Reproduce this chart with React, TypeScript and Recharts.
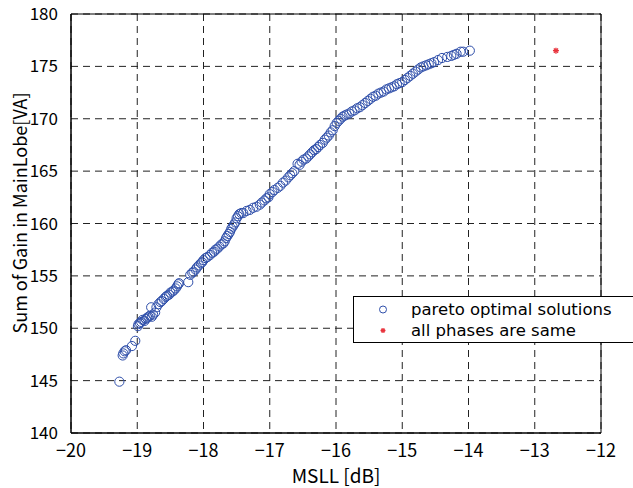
import {
  ScatterChart,
  Scatter,
  XAxis,
  YAxis,
  CartesianGrid,
  ReferenceArea,
} from "recharts";

// MSLL [dB] of each pareto optimal solution
const paretoMsll = [
  -19.27, -19.22, -19.21, -19.19, -19.17, -19.08, -19.03, -18.99, -18.98, -18.96,
  -18.94, -18.92, -18.89, -18.87, -18.85, -18.83, -18.81, -18.79, -18.78, -18.76,
  -18.73, -18.71, -18.68, -18.65, -18.63, -18.6, -18.57, -18.55, -18.52, -18.5,
  -18.47, -18.45, -18.42, -18.4, -18.38, -18.37, -18.23, -18.2, -18.17, -18.15,
  -18.12, -18.1, -18.07, -18.04, -18.02, -18.0, -17.97, -17.94, -17.9, -17.87,
  -17.84, -17.82, -17.79, -17.76, -17.73, -17.7, -17.68, -17.66, -17.64, -17.62,
  -17.6, -17.58, -17.56, -17.54, -17.52, -17.5, -17.48, -17.46, -17.43, -17.4,
  -17.35, -17.3, -17.25, -17.2, -17.15, -17.12, -17.08, -17.05, -17.02, -17.0,
  -16.96, -16.93, -16.88, -16.84, -16.8, -16.76, -16.72, -16.69, -16.66, -16.63,
  -16.58, -16.55, -16.52, -16.49, -16.45, -16.42, -16.39, -16.36, -16.33, -16.3,
  -16.27, -16.24, -16.2, -16.17, -16.14, -16.11, -16.08, -16.05, -16.02, -15.99,
  -15.96, -15.93, -15.9, -15.87, -15.84, -15.8, -15.76, -15.72, -15.68, -15.64,
  -15.6, -15.56, -15.52, -15.48, -15.44, -15.4, -15.36, -15.32, -15.28, -15.24,
  -15.2, -15.16, -15.12, -15.08, -15.04, -15.0, -14.96, -14.92, -14.88, -14.84,
  -14.8, -14.76, -14.72, -14.68, -14.64, -14.6, -14.56, -14.52, -14.46, -14.4,
  -14.32, -14.26, -14.22, -14.18, -14.12, -14.08, -13.98,
];

// sum of gain in main lobe [VA], same order
const paretoGain = [
  144.9, 147.4, 147.6, 147.8, 147.9, 148.3, 148.8, 150.2, 150.4, 150.5,
  150.6, 150.8, 150.7, 150.9, 151.0, 151.1, 151.2, 152.0, 151.1, 151.3,
  151.5, 152.0, 152.3, 152.5, 152.6, 152.8, 153.0, 153.1, 153.2, 153.4,
  153.5, 153.6, 153.8, 154.0, 154.2, 154.3, 154.4, 155.1, 155.3, 155.4,
  155.6, 155.8, 156.0, 156.2, 156.3, 156.5, 156.7, 156.8, 157.0, 157.2,
  157.3, 157.5, 157.6, 157.8, 158.0, 158.1, 158.3, 158.6, 158.8, 159.0,
  159.2, 159.5, 159.7, 159.9, 160.1, 160.5, 160.7, 160.9, 161.0, 161.0,
  161.2, 161.3, 161.5, 161.6, 161.8, 162.0, 162.2, 162.4, 162.5, 162.8,
  163.0, 163.2, 163.4, 163.6, 163.9, 164.1, 164.4, 164.6, 164.8, 165.0,
  165.7, 165.6, 165.9, 166.1, 166.2, 166.4, 166.6, 166.8, 167.0, 167.1,
  167.3, 167.5, 167.7, 168.0, 168.2, 168.4, 168.7, 168.9, 169.3, 169.6,
  169.8, 170.0, 170.2, 170.3, 170.4, 170.5, 170.7, 170.8, 171.0, 171.1,
  171.3, 171.5, 171.7, 171.9, 172.1, 172.2, 172.4, 172.5, 172.6, 172.8,
  172.9, 173.0, 173.1, 173.3, 173.4, 173.5, 173.7, 173.9, 174.1, 174.3,
  174.5, 174.7, 174.9, 175.0, 175.1, 175.2, 175.3, 175.4, 175.6, 175.8,
  175.9, 176.0, 176.1, 176.2, 176.4, 176.4, 176.5,
];

// the "all phases are same" reference solution
const samePhaseMsll = [-12.68];
const samePhaseGain = [176.5];

const seriesNames = ["pareto optimal solutions", "all phases are same"];

const xTicks = [-20, -19, -18, -17, -16, -15, -14, -13, -12];
const yTicks = [140, 145, 150, 155, 160, 165, 170, 175, 180];

const paretoData = paretoMsll.map((x, i) => ({ x, y: paretoGain[i] }));
const samePhaseData = samePhaseMsll.map((x, i) => ({ x, y: samePhaseGain[i] }));

const BLUE = "#2f4faa";
const RED = "#e8323c";
const FONT = "'Noto Sans CJK JP', 'DejaVu Sans', sans-serif";

const fmt = (v: number) => (v < 0 ? "\u2212" + Math.abs(v) : String(v));

const Circle = (props: any) => (
  <circle cx={props.cx} cy={props.cy} r={4.6} fill="none" stroke={BLUE} strokeWidth={1} />
);

const Star = ({ cx, cy, s = 3 }: any) => (
  <g stroke={RED} strokeWidth={1.3}>
    <line x1={cx - s} y1={cy} x2={cx + s} y2={cy} />
    <line x1={cx} y1={cy - s} x2={cx} y2={cy + s} />
    <line x1={cx - s * 0.7} y1={cy - s * 0.7} x2={cx + s * 0.7} y2={cy + s * 0.7} />
    <line x1={cx - s * 0.7} y1={cy + s * 0.7} x2={cx + s * 0.7} y2={cy - s * 0.7} />
  </g>
);

const LegendBox = () => (
  <div
    style={{
      position: "absolute",
      left: 353,
      top: 296,
      border: "1px solid #000",
      background: "#fff",
      width: 300,
      height: 47,
      fontFamily: "'DejaVu Sans', sans-serif",
      fontSize: 16.5,
      color: "#000",
      lineHeight: "21px",
      paddingTop: 2,
      boxSizing: "border-box",
    }}
  >
    <div style={{ display: "flex", alignItems: "center", height: 21 }}>
      <svg width={57} height={21}>
        <circle cx={29} cy={10.5} r={3.5} fill="none" stroke={BLUE} />
      </svg>
      <span>{seriesNames[0]}</span>
    </div>
    <div style={{ display: "flex", alignItems: "center", height: 21 }}>
      <svg width={57} height={21}>
        <Star cx={29} cy={10.5} s={2.5} />
      </svg>
      <span>{seriesNames[1]}</span>
    </div>
  </div>
);

const YTitle = () => (
  <text
    x={19}
    y={213}
    transform="rotate(-90 19 213)"
    textAnchor="middle"
    dominantBaseline="central"
    fill="#000"
    fontSize={18}
    fontFamily={FONT}
  >
    Sum of Gain in MainLobe[VA]
  </text>
);

export default function App() {
  return (
    <div
      style={{
        position: "absolute",
        left: 0,
        top: 0,
        width: 633,
        height: 488,
        overflow: "hidden",
        background: "#fff",
      }}
    >
      <ScatterChart
        width={633}
        height={488}
        margin={{ top: 14, right: 32, bottom: 0, left: 26 }}
      >
        <CartesianGrid
          stroke="#222"
          strokeDasharray="7 5"
          horizontalValues={yTicks}
          verticalValues={xTicks}
        />
        <XAxis
          type="number"
          dataKey="x"
          domain={[-20, -12]}
          ticks={xTicks}
          tickFormatter={fmt}
          height={55}
          axisLine={{ stroke: "#000" }}
          tickLine={false}
          tickMargin={5}
          tick={{ fill: "#000", fontSize: 18, fontFamily: FONT }}
          label={{
            value: "MSLL [dB]",
            position: "insideBottom",
            offset: 5,
            fill: "#000",
            fontSize: 19,
            fontFamily: FONT,
          }}
        />
        <YAxis
          type="number"
          dataKey="y"
          domain={[140, 180]}
          ticks={yTicks}
          width={45}
          axisLine={{ stroke: "#000" }}
          tickLine={false}
          tickMargin={7}
          tick={{ fill: "#000", fontSize: 17, fontFamily: FONT }}
          label={YTitle}
        />
        <ReferenceArea
          x1={-20}
          x2={-12}
          y1={140}
          y2={180}
          fill="none"
          stroke="#000"
          strokeWidth={1}
          ifOverflow="visible"
        />
        <Scatter
          name={seriesNames[0]}
          data={paretoData}
          shape={Circle}
          isAnimationActive={false}
        />
        <Scatter
          name={seriesNames[1]}
          data={samePhaseData}
          shape={(p: any) => <Star cx={p.cx} cy={p.cy} s={3} />}
          isAnimationActive={false}
        />
      </ScatterChart>
      <LegendBox />
    </div>
  );
}
